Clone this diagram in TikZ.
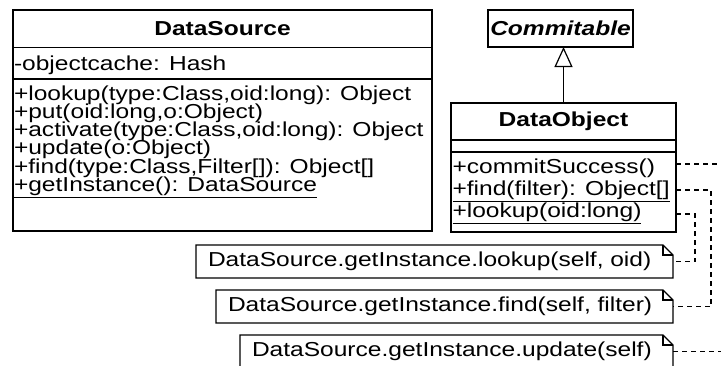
\documentclass[tikz,border=0pt]{standalone}
\usepackage{fontspec}
\setmainfont{Liberation Sans}[FakeStretch=1.215]
\usetikzlibrary{arrows.meta}

\newcommand{\umlfont}{\fontsize{20.2pt}{18.4pt}\selectfont}

% UML note outline with a folded top-right corner
\newcommand{\drawnote}[1]{%
  \draw[umlline] (#1.north west) -- ([xshift=-10pt]#1.north east)
    -- ([yshift=-10pt]#1.north east) -- (#1.south east) -- (#1.south west) -- cycle;
  \draw[umlline] ([xshift=-10pt]#1.north east) |- ([yshift=-10pt]#1.north east);}

\tikzset{
  umlline/.style={line width=1.2pt, line join=miter},
  box/.style={draw, umlline, inner sep=0pt, outer sep=0pt, anchor=north west, font=\umlfont},
  member/.style={inner sep=0pt, outer sep=0pt, anchor=base west, font=\umlfont},
  notebox/.style={inner xsep=12pt, inner ysep=0pt, outer sep=0pt, minimum height=33pt,
                  anchor=north west, align=left, font=\umlfont},
  dashline/.style={line width=1.2pt, dash pattern=on 5pt off 4pt}
}

\begin{document}
\begin{tikzpicture}[x=1pt, y=1pt]
\useasboundingbox (0,0) rectangle (721,-365);

% DataSource class
\node[box, minimum width=419pt, minimum height=37.5pt, font=\umlfont\bfseries] (dshead) at (13,-10) {DataSource};
\node[box, minimum width=419pt, minimum height=31.5pt] (dsattr) at (dshead.south west) {};
\node[box, minimum width=419pt, minimum height=152pt] (dsops) at (dsattr.south west) {};
\node[member] (dsa1) at (14,-70.5) {-objectcache: Hash};
\node[member] (dso1) at (14,-100) {+lookup(type:Class,oid:long): Object};
\node[member] (dso2) at (14,-118.3) {+put(oid:long,o:Object)};
\node[member] (dso3) at (14,-136.6) {+activate(type:Class,oid:long): Object};
\node[member] (dso4) at (14,-154.9) {+update(o:Object)};
\node[member] (dso5) at (14,-173.2) {+find(type:Class,Filter[]): Object[]};
\node[member] (dso6) at (14,-191.5) {\underline{+getInstance(): DataSource}};

% Commitable interface
\node[box, minimum width=145pt, minimum height=37pt, font=\umlfont\bfseries\itshape] (commitable) at (488,-10) {Commitable};

% DataObject class
\node[box, minimum width=225pt, minimum height=37pt, font=\umlfont\bfseries] (dohead) at (451,-103) {DataObject};
\node[box, minimum width=225pt, minimum height=12pt] (doattr) at (dohead.south west) {};
\node[box, minimum width=225pt, minimum height=80pt] (doops) at (doattr.south west) {};
\node[member] (doo1) at (452.5,-173.5) {+commitSuccess()};
\node[member] (doo2) at (452.5,-195.5) {\underline{+find(filter): Object[]}};
\node[member] (doo3) at (452.5,-217.5) {\underline{+lookup(oid:long)}};

% generalization
\draw[umlline, -{Triangle[open, length=20pt, width=18pt]}] (dohead.north) -- (dohead.north |- commitable.south);

% attachment points on the operations compartment
\coordinate (pcommit) at (676,-164);
\coordinate (pfind) at (676,-190);
\coordinate (plookup) at (676,-214);

% notes
\node[notebox, text width=453pt] (nlook) at (196,-245) {DataSource.getInstance.lookup(self, oid)};
\drawnote{nlook}
\node[notebox, text width=433pt] (nfind) at (216,-290) {DataSource.getInstance.find(self, filter)};
\drawnote{nfind}
\node[notebox, text width=409pt] (nupd) at (240,-335) {DataSource.getInstance.update(self)};
\drawnote{nupd}

% note attachments
\draw[dashline] (plookup) -- ++(19,0) |- (nlook.east);
\draw[dashline] (pfind) -- ++(35,0) |- (nfind.east);
\draw[dashline] (pcommit) -- ++(45,0) coordinate (ecommit);
\draw[dashline] (nupd.east) -- ++(48,0) coordinate (eupd);
\end{tikzpicture}
\end{document}
